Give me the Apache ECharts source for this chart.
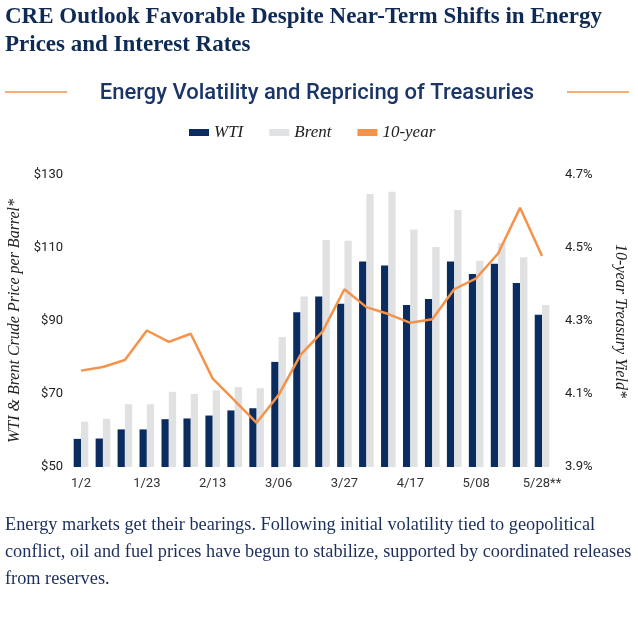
<!DOCTYPE html>
<html>
<head>
<meta charset="utf-8">
<script src="https://cdn.jsdelivr.net/npm/echarts@6/dist/echarts.min.js"></script>
<style>
  html, body { margin: 0; padding: 0; background: #fff; }
  #chart { width: 638px; height: 619px; }
</style>
</head>
<body>
<div id="chart"></div>
<script>
// weekly dates, only every 3rd gets a label
const weeks = ['1/2', '1/9', '1/16', '1/23', '1/30', '2/6', '2/13', '2/20', '2/27', '3/06', '3/13',
  '3/20', '3/27', '4/3', '4/10', '4/17', '4/24', '5/01', '5/08', '5/15', '5/22', '5/28**'];

const wti = [57.7, 57.8, 60.3, 60.3, 63.1, 63.3, 64.1, 65.5, 66.1, 78.8, 92.4,
  96.7, 94.7, 106.3, 105.2, 94.4, 96.0, 106.3, 102.9, 105.7, 100.4, 91.7];
const brent = [62.4, 63.2, 67.2, 67.2, 70.6, 70.0, 71.0, 71.9, 71.6, 85.6, 96.7,
  112.2, 112.0, 124.8, 125.4, 115.1, 110.3, 120.4, 106.5, 111.3, 107.5, 94.4];
const tenYear = [4.164, 4.174, 4.193, 4.274, 4.243, 4.265, 4.142, 4.082, 4.021, 4.097, 4.207,
  4.271, 4.387, 4.338, 4.319, 4.295, 4.305, 4.387, 4.417, 4.485, 4.61, 4.478];

const priceTicks = { min: 50, max: 130, step: 20 };
const yieldTicks = { min: 3.9, max: 4.7, step: 0.2 };

const NAVY = '#0b2c5e';
const GRAY = '#dfe1e2';
const ORANGE = '#f5934b';
const serif = '"Liberation Serif", "DejaVu Serif", serif';
const sans = 'Roboto, "Open Sans", sans-serif';

const chart = echarts.init(document.getElementById('chart'), null, { renderer: 'canvas' });

const option = {
  animation: false,
  title: {
    text: 'CRE Outlook Favorable Despite Near-Term Shifts in Energy\nPrices and Interest Rates',
    left: 5,
    top: 3,
    padding: 0,
    textStyle: {
      fontFamily: serif,
      fontWeight: 'bold',
      fontSize: 23,
      lineHeight: 28,
      color: '#0e2a55'
    }
  },
  graphic: [
    { type: 'line', shape: { x1: 5, y1: 92, x2: 67, y2: 92 }, style: { stroke: ORANGE, lineWidth: 1.5 } },
    { type: 'line', shape: { x1: 567, y1: 92, x2: 629, y2: 92 }, style: { stroke: ORANGE, lineWidth: 1.5 } },
    {
      type: 'text',
      x: 317,
      y: 93,
      style: {
        text: 'Energy Volatility and Repricing of Treasuries',
        align: 'center',
        verticalAlign: 'middle',
        font: '500 22px ' + sans,
        fill: '#1b3566'
      }
    },
    {
      type: 'text',
      x: 5,
      y: 512,
      style: {
        text: 'Energy markets get their bearings. Following initial volatility tied to geopolitical\n' +
          'conflict, oil and fuel prices have begun to stabilize, supported by coordinated releases\n' +
          'from reserves.',
        font: '18.3px ' + serif,
        lineHeight: 27,
        fill: '#1c2f5c'
      }
    }
  ],
  legend: {
    top: 119,
    left: 184,
    icon: 'rect',
    itemWidth: 20,
    itemHeight: 7,
    itemGap: 26,
    textStyle: {
      fontFamily: serif,
      fontStyle: 'italic',
      fontSize: 17,
      color: '#222'
    },
    data: ['WTI', 'Brent', '10-year']
  },
  grid: {
    left: 70,
    right: 85,
    top: 175,
    bottom: 152,
    outerBoundsMode: 'none',
    containLabel: false
  },
  xAxis: {
    type: 'category',
    data: weeks,
    axisLine: { show: false },
    axisTick: { show: false },
    axisLabel: {
      interval: 2,
      margin: 10,
      fontFamily: sans,
      fontSize: 13,
      color: '#333'
    }
  },
  yAxis: [
    {
      type: 'value',
      min: priceTicks.min,
      max: priceTicks.max,
      interval: priceTicks.step,
      name: 'WTI & Brent Crude Price per Barrel*',
      nameLocation: 'middle',
      nameGap: 46,
      nameTextStyle: { fontFamily: serif, fontStyle: 'italic', fontSize: 16, color: '#222' },
      splitLine: { show: false },
      axisLine: { show: false },
      axisTick: { show: false },
      axisLabel: {
        margin: 7,
        fontFamily: sans,
        fontSize: 13,
        color: '#222',
        formatter: v => '$' + v
      }
    },
    {
      type: 'value',
      min: yieldTicks.min,
      max: yieldTicks.max,
      interval: yieldTicks.step,
      name: '10-year Treasury Yield*',
      nameLocation: 'middle',
      nameGap: 59,
      nameRotate: -90,
      nameTextStyle: { fontFamily: serif, fontStyle: 'italic', fontSize: 16, color: '#222' },
      splitLine: { show: false },
      axisLine: { show: false },
      axisTick: { show: false },
      axisLabel: {
        margin: 12,
        fontFamily: sans,
        fontSize: 13,
        color: '#222',
        formatter: v => v.toFixed(1) + '%'
      }
    }
  ],
  series: [
    {
      name: 'WTI',
      type: 'bar',
      data: wti,
      barWidth: 7.3,
      barGap: '0%',
      itemStyle: { color: NAVY }
    },
    {
      name: 'Brent',
      type: 'bar',
      data: brent,
      barWidth: 7.3,
      barGap: '0%',
      itemStyle: { color: GRAY }
    },
    {
      name: '10-year',
      type: 'line',
      yAxisIndex: 1,
      data: tenYear,
      showSymbol: false,
      symbol: 'none',
      lineStyle: { color: ORANGE, width: 2.5 },
      itemStyle: { color: ORANGE }
    }
  ]
};

chart.setOption(option);
</script>
</body>
</html>
